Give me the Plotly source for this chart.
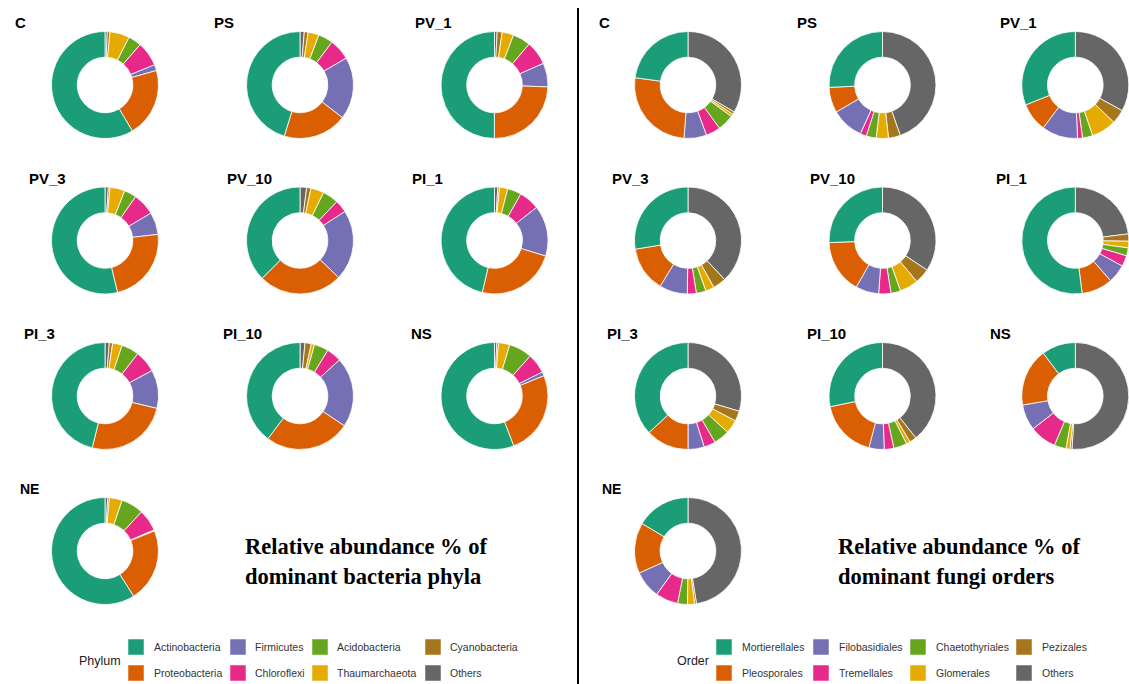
import plotly.graph_objects as go

W, H = 1129, 684

# ---------------- data ----------------
samples = ["C", "PS", "PV_1", "PV_3", "PV_10", "PI_1", "PI_3", "PI_10", "NS", "NE"]

phyla = ["Actinobacteria", "Proteobacteria", "Firmicutes", "Chloroflexi",
         "Acidobacteria", "Thaumarchaeota", "Cyanobacteria", "Others"]
orders = ["Mortierellales", "Pleosporales", "Filobasidiales", "Tremellales",
          "Chaetothyriales", "Glomerales", "Pezizales", "Others"]

# relative abundance (%) per sample, in legend order
bac_C = [59.0, 21.0, 1.8, 7.5, 4.0, 6.0, 0.8, 0.7]
bac_PS = [45.7, 19.5, 19.0, 6.5, 4.5, 3.3, 1.2, 1.3]
bac_PV_1 = [50.0, 24.5, 7.2, 7.2, 5.4, 3.5, 1.5, 0.8]
bac_PV_3 = [53.6, 23.0, 6.7, 6.7, 3.7, 4.5, 0.5, 1.0]
bac_PV_10 = [37.5, 25.4, 21.3, 3.8, 4.8, 4.0, 1.3, 2.0]
bac_PI_1 = [46.3, 24.0, 15.3, 6.2, 4.2, 2.5, 0.5, 1.0]
bac_PI_3 = [46.1, 25.1, 11.6, 6.6, 5.3, 2.9, 1.0, 1.3]
bac_PI_10 = [39.7, 25.8, 21.2, 4.5, 4.3, 1.0, 1.9, 1.5]
bac_NS = [55.8, 25.3, 1.2, 6.0, 7.0, 3.4, 0.5, 0.7]
bac_NE = [59.1, 22.2, 0.3, 6.6, 6.8, 3.9, 0.5, 0.8]

fun_C = [22.8, 26.0, 6.8, 4.4, 5.0, 0.8, 0.8, 33.4]
fun_PS = [25.7, 7.7, 9.8, 1.9, 3.0, 3.7, 3.6, 44.6]
fun_PV_1 = [31.1, 8.7, 10.9, 1.5, 3.1, 7.5, 4.3, 33.0]
fun_PV_3 = [27.6, 13.7, 8.5, 2.7, 2.9, 2.6, 4.0, 38.0]
fun_PV_10 = [25.6, 16.2, 7.0, 3.7, 2.9, 5.6, 4.6, 34.3]
fun_PI_1 = [52.0, 9.4, 5.6, 3.3, 2.4, 2.0, 2.2, 23.0]
fun_PI_3 = [37.0, 13.0, 4.9, 3.5, 4.8, 4.1, 3.1, 29.6]
fun_PI_10 = [28.2, 17.7, 4.6, 2.9, 4.0, 1.2, 2.1, 39.3]
fun_NS = [10.2, 17.5, 7.8, 8.1, 3.6, 1.2, 0.6, 51.0]
fun_NE = [16.4, 15.3, 8.3, 6.8, 3.0, 2.1, 0.6, 47.4]

bacteria = [bac_C, bac_PS, bac_PV_1, bac_PV_3, bac_PV_10, bac_PI_1,
            bac_PI_3, bac_PI_10, bac_NS, bac_NE]
fungi = [fun_C, fun_PS, fun_PV_1, fun_PV_3, fun_PV_10, fun_PI_1,
         fun_PI_3, fun_PI_10, fun_NS, fun_NE]

colors = ["#1B9E77", "#D95F02", "#7570B3", "#E7298A",
          "#66A61E", "#E6AB02", "#A6761D", "#666666"]

# ---------------- layout geometry (pixels) ----------------
row_y = [85, 240.5, 396, 551]
label_y = [22.5, 178, 333.5, 489]
grid = [(0, 0), (0, 1), (0, 2), (1, 0), (1, 1), (1, 2), (2, 0), (2, 1), (2, 2), (3, 0)]

bac_cols = [105, 300, 494.5]
fun_cols = [688, 882.5, 1075.3]
bac_label_x = [13, 212, 413, 27, 225, 410, 22, 221, 409, 18]
fun_label_x = [597, 795, 998, 610, 808, 994, 605, 805, 988, 600]
R = 53.5


def px(x):
    return min(max(x / W, 0.0), 1.0)


def py(y):
    return min(max(1 - y / H, 0.0), 1.0)


fig = go.Figure()
annotations = []
shapes = []


def add_panel(data, cats, cols, label_x):
    for i, (name, vals) in enumerate(zip(samples, data)):
        r, c = grid[i]
        cx, cy = cols[c], row_y[r]
        fig.add_trace(go.Pie(
            labels=cats[::-1], values=vals[::-1],
            marker=dict(colors=colors[::-1], line=dict(color="white", width=0.8)),
            hole=0.52, sort=False, direction="clockwise", rotation=0,
            textinfo="none", hoverinfo="label+percent", showlegend=False,
            domain=dict(x=[px(cx - R), px(cx + R)], y=[py(cy + R), py(cy - R)]),
        ))
        annotations.append(dict(
            x=px(label_x[i]), y=py(label_y[r]), xref="paper", yref="paper",
            text=name, showarrow=False, xanchor="left", yanchor="middle",
            font=dict(family="Liberation Sans, Arial", size=14 if name == "NE" else 15,
                      color="black", weight="bold")))


add_panel(bacteria, phyla, bac_cols, bac_label_x)
add_panel(fungi, orders, fun_cols, fun_label_x)

# titles
for x0, lines in [(243, ["Relative abundance % of", "dominant bacteria phyla"]),
                  (836, ["Relative abundance % of", "dominant fungi orders"])]:
    for k, t in enumerate(lines):
        annotations.append(dict(
            x=px(x0), y=py(546 + 30 * k), xref="paper", yref="paper", text=t,
            showarrow=False, xanchor="left", yanchor="middle",
            font=dict(family="Liberation Serif, Times New Roman", size=22.5,
                      color="black", weight="bold")))


# legends (manual, 4 columns x 2 rows, column-major)
def add_legend(title, title_x, cats, sw_x, txt_x):
    annotations.append(dict(
        x=px(title_x), y=py(661), xref="paper", yref="paper", text=title,
        showarrow=False, xanchor="left", yanchor="middle",
        font=dict(family="Liberation Sans, Arial", size=12.5, color="#222")))
    for j, cat in enumerate(cats):
        col, row = j // 2, j % 2
        yc = 647 + 26 * row
        shapes.append(dict(type="rect", xref="paper", yref="paper",
                           x0=px(sw_x[col]), x1=px(sw_x[col] + 16),
                           y0=py(yc + 8), y1=py(yc - 8),
                           fillcolor=colors[j], line=dict(color="white", width=0.5)))
        annotations.append(dict(
            x=px(txt_x[col]), y=py(yc), xref="paper", yref="paper", text=cat,
            showarrow=False, xanchor="left", yanchor="middle",
            font=dict(family="Liberation Sans, Arial", size=10.5, color="#333")))


add_legend("Phylum", 77, phyla, [128, 230, 312, 425], [152, 253, 335, 448])
add_legend("Order", 675, orders, [716, 813, 910, 1016], [740, 837, 934, 1040])

# divider
shapes.append(dict(type="line", xref="paper", yref="paper",
                   x0=px(578), x1=px(578), y0=py(8), y1=0,
                   line=dict(color="black", width=2)))

fig.update_layout(
    width=W, height=H, autosize=False,
    margin=dict(l=0, r=0, t=0, b=0),
    paper_bgcolor="white", plot_bgcolor="white",
    annotations=annotations, shapes=shapes, showlegend=False,
)

fig.write_html("out.html")
